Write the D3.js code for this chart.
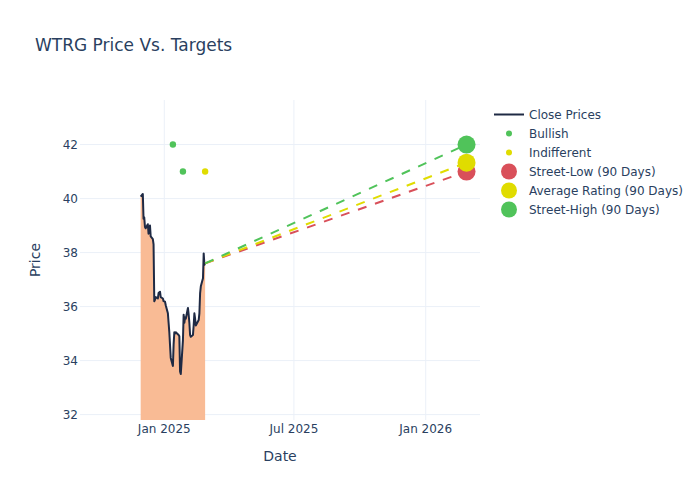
<!DOCTYPE html>
<html>
<head>
<meta charset="utf-8">
<script src="https://cdn.jsdelivr.net/npm/d3@7"></script>
<style>
  html, body { margin: 0; padding: 0; background: #fff; }
  svg { display: block; }
  text { font-family: "DejaVu Sans", "Open Sans", sans-serif; fill: #2a3f5f; }
</style>
</head>
<body>
<svg id="chart" width="700" height="500"></svg>
<script>
// ---- data ----
const closeDates = [
  "2024-11-29","2024-12-02","2024-12-03","2024-12-04","2024-12-05","2024-12-06",
  "2024-12-09","2024-12-10","2024-12-11","2024-12-12","2024-12-13",
  "2024-12-16","2024-12-17","2024-12-18","2024-12-19","2024-12-20",
  "2024-12-23","2024-12-24","2024-12-26","2024-12-27","2024-12-30","2024-12-31",
  "2025-01-02","2025-01-03","2025-01-06","2025-01-07","2025-01-08","2025-01-10",
  "2025-01-13","2025-01-14","2025-01-15","2025-01-16","2025-01-17",
  "2025-01-21","2025-01-22","2025-01-23","2025-01-24",
  "2025-01-27","2025-01-28","2025-01-29","2025-01-30","2025-01-31",
  "2025-02-03","2025-02-04","2025-02-05","2025-02-06","2025-02-07",
  "2025-02-10","2025-02-11","2025-02-12","2025-02-13","2025-02-14",
  "2025-02-18","2025-02-19","2025-02-20","2025-02-21",
  "2025-02-24","2025-02-25","2025-02-26","2025-02-27"
];
const closePrices = [
  40.07,40.17,39.25,39.30,38.95,38.90,
  39.05,38.70,38.85,39.00,38.60,
  38.50,38.30,36.20,36.25,36.35,
  36.30,36.50,36.55,36.35,36.30,36.20,
  36.18,36.05,35.75,35.40,35.05,34.10,
  33.80,34.60,35.05,35.00,35.05,
  34.95,34.90,33.60,33.50,
  34.75,35.70,35.40,35.60,35.55,
  35.95,35.70,35.40,34.95,34.88,
  34.95,35.30,35.75,35.55,35.30,
  35.50,35.75,36.50,36.75,
  37.05,37.97,37.55,37.60
];
const bullishDates = ["2025-01-13","2025-01-27"];
const bullishTargets = [42, 41];
const indifferentDates = ["2025-02-27"];
const indifferentTargets = [41];
const targetDate = "2026-02-27";
const targetNames = ["Street-Low (90 Days)","Average Rating (90 Days)","Street-High (90 Days)"];
const targetValues = [41, 41.33, 42];
const yTicks = [32, 34, 36, 38, 40, 42];
const xTickDates = ["2025-01-01","2025-07-01","2026-01-01"];
const xTickLabels = ["Jan 2025","Jul 2025","Jan 2026"];

// ---- styles ----
const GREEN = "#50c35a", YELLOW = "#e0dc00", RED = "#d9505a", NAVY = "#1f2a44", FILL = "#f9bb95", GRID = "#ebf0f8";

const parse = s => new Date(s + "T00:00:00Z");
const svg = d3.select("#chart");
const L = 80, R = 480, T = 100, B = 420;

const x = d3.scaleUtc()
  .domain([new Date(Date.UTC(2024, 8, 5, 7)), new Date(Date.UTC(2026, 2, 17, 19))])
  .range([L, R]);
const y = d3.scaleLinear().domain([31.8, 43.65]).range([B, T]);

// title
svg.append("text").attr("x", 35).attr("y", 50.5).attr("font-size", 17).text("WTRG Price Vs. Targets");

// grid
const g = svg.append("g");
g.selectAll(".yg").data(yTicks).join("line")
  .attr("x1", L).attr("x2", R).attr("y1", d => y(d)).attr("y2", d => y(d))
  .attr("stroke", GRID).attr("stroke-width", 1);
g.selectAll(".xg").data(xTickDates).join("line")
  .attr("x1", d => x(parse(d))).attr("x2", d => x(parse(d))).attr("y1", T).attr("y2", B)
  .attr("stroke", GRID).attr("stroke-width", 1);

// clip
svg.append("clipPath").attr("id", "clip").append("rect")
  .attr("x", L).attr("y", T).attr("width", R - L).attr("height", B - T);
const plot = svg.append("g").attr("clip-path", "url(#clip)");

const closeData = closeDates.map((d, i) => ({ date: parse(d), v: closePrices[i] }));

// fill
plot.append("path").datum(closeData)
  .attr("d", d3.area().x(d => x(d.date)).y0(y(0) > B ? B + 10 : y(0)).y1(d => y(d.v)))
  .attr("fill", FILL).attr("stroke", "none");

// close line
plot.append("path").datum(closeData)
  .attr("d", d3.line().x(d => x(d.date)).y(d => y(d.v)))
  .attr("fill", "none").attr("stroke", NAVY).attr("stroke-width", 2).attr("stroke-linejoin", "round");

// dashed target lines
const last = closeData[closeData.length - 1];
const tColors = [RED, YELLOW, GREEN];
targetValues.forEach((v, i) => {
  plot.append("line")
    .attr("x1", x(last.date)).attr("y1", y(last.v))
    .attr("x2", x(parse(targetDate))).attr("y2", y(v))
    .attr("stroke", tColors[i]).attr("stroke-width", 2).attr("stroke-dasharray", "9,9");
});

// rating dots
plot.selectAll(".bull").data(bullishDates).join("circle")
  .attr("cx", d => x(parse(d))).attr("cy", (d, i) => y(bullishTargets[i])).attr("r", 3.2).attr("fill", GREEN);
plot.selectAll(".ind").data(indifferentDates).join("circle")
  .attr("cx", d => x(parse(d))).attr("cy", (d, i) => y(indifferentTargets[i])).attr("r", 3.2).attr("fill", YELLOW);

// target markers
targetValues.forEach((v, i) => {
  svg.append("circle").attr("cx", x(parse(targetDate))).attr("cy", y(v)).attr("r", 9).attr("fill", tColors[i]);
});

// axes labels
svg.selectAll(".ytl").data(yTicks).join("text")
  .attr("x", 78).attr("y", d => y(d)).attr("dy", "0.35em").attr("text-anchor", "end")
  .attr("font-size", 12).text(d => d);
svg.selectAll(".xtl").data(xTickDates).join("text")
  .attr("x", d => x(parse(d))).attr("y", 433).attr("text-anchor", "middle")
  .attr("font-size", 12).text((d, i) => xTickLabels[i]);
svg.append("text").attr("x", 280).attr("y", 461).attr("text-anchor", "middle").attr("font-size", 14).text("Date");
svg.append("text").attr("transform", "translate(39.5,260) rotate(-90)").attr("text-anchor", "middle").attr("font-size", 14).text("Price");

// legend
const lg = svg.append("g");
const items = [
  { name: "Close Prices", type: "line", color: NAVY },
  { name: "Bullish", type: "dot", color: GREEN },
  { name: "Indifferent", type: "dot", color: YELLOW },
  { name: targetNames[0], type: "big", color: RED },
  { name: targetNames[1], type: "big", color: YELLOW },
  { name: targetNames[2], type: "big", color: GREEN }
];
items.forEach((it, i) => {
  const cy = 114.5 + i * 19;
  if (it.type === "line") {
    lg.append("line").attr("x1", 494).attr("x2", 524).attr("y1", cy).attr("y2", cy).attr("stroke", it.color).attr("stroke-width", 2);
  } else if (it.type === "dot") {
    lg.append("circle").attr("cx", 509).attr("cy", cy).attr("r", 3).attr("fill", it.color);
  } else {
    lg.append("circle").attr("cx", 509).attr("cy", cy).attr("r", 8).attr("fill", it.color);
  }
  lg.append("text").attr("x", 529).attr("y", cy).attr("dy", "0.35em").attr("font-size", 12).text(it.name);
});
</script>
</body>
</html>
